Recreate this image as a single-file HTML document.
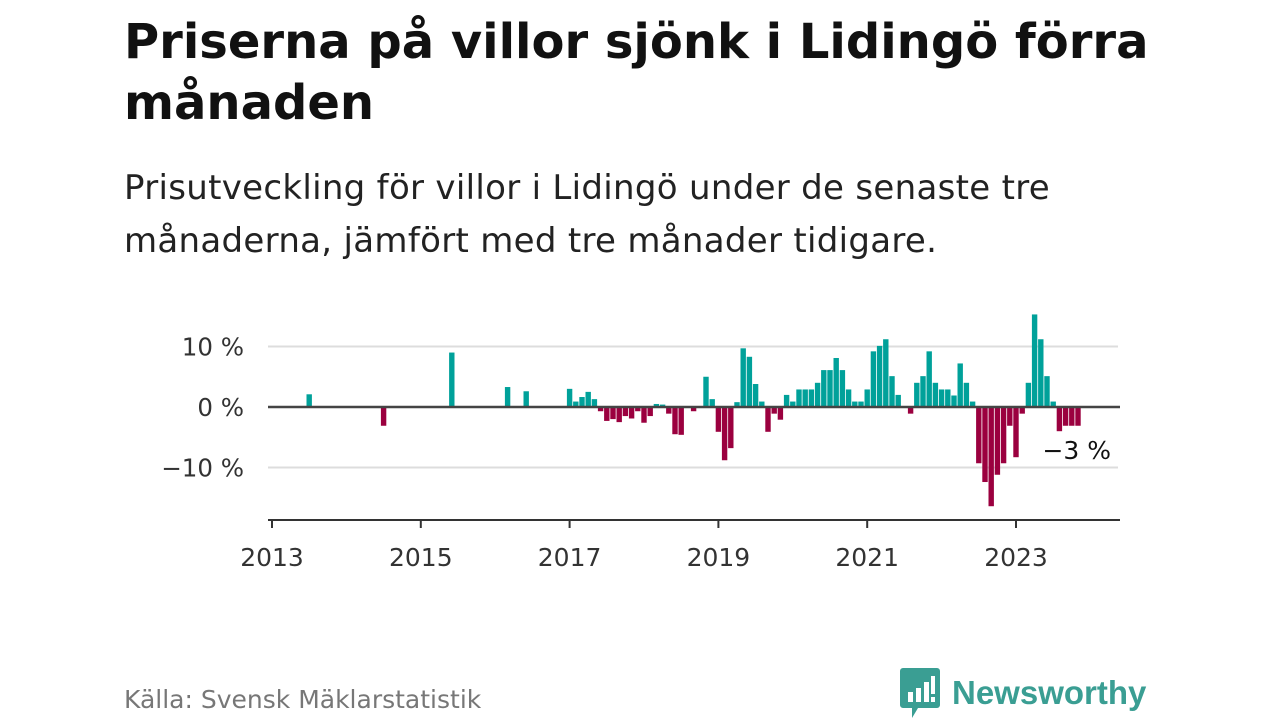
<!DOCTYPE html>
<html><head><meta charset="utf-8"><style>
body{margin:0;width:1280px;height:720px;background:#fff;font-family:"DejaVu Sans","Liberation Sans",sans-serif;overflow:hidden;position:relative}
h1{position:absolute;left:124px;top:12px;margin:0;font-size:48px;line-height:61px;font-weight:bold;color:#111;white-space:nowrap;letter-spacing:0px}
.sub{position:absolute;left:124px;top:162px;margin:0;font-size:34px;line-height:53px;color:#222;white-space:nowrap;letter-spacing:0.3px}
.src{position:absolute;left:124px;top:685px;font-size:25px;color:#777}
.logo{position:absolute;left:900px;top:668px;display:flex;align-items:center}
.logo span{font-size:33px;color:#3a9e93;font-weight:bold;margin-left:12px;font-family:"Liberation Sans",sans-serif}
</style></head><body>
<h1>Priserna på villor sjönk i Lidingö förra<br>månaden</h1>
<p class="sub">Prisutveckling för villor i Lidingö under de senaste tre<br>månaderna, jämfört med tre månader tidigare.</p>
<svg id="chart" width="1280" height="720" style="position:absolute;left:0;top:0"></svg>
<div class="src">Källa: Svensk Mäklarstatistik</div>
<div class="logo">
<svg width="40" height="50" viewBox="0 0 40 50"><path d="M3 0h34a3 3 0 0 1 3 3v34a3 3 0 0 1-3 3H18l-6 10v-10H3a3 3 0 0 1-3-3V3a3 3 0 0 1 3-3z" fill="#3a9e93"/><rect x="8" y="24" width="5" height="10" fill="#fff"/><rect x="16" y="20" width="5" height="14" fill="#fff"/><rect x="24" y="14" width="5" height="20" fill="#fff"/><rect x="31" y="8" width="4" height="18" fill="#fff"/><rect x="31" y="29" width="4" height="5" fill="#fff"/></svg>
<span>Newsworthy</span></div>
<script>
const sparseMonths=[6,18,29,38,41];
const sparseValues=[2.1,-3.1,9.0,3.3,2.6];
const startMonth=48; // Jan 2017
const values=[3.0,0.9,1.65,2.5,1.3,-0.7,-2.3,-2.0,-2.5,-1.5,-1.9,-0.7,
-2.6,-1.5,0.5,0.4,-1.1,-4.5,-4.6,0,-0.7,0,5.0,1.3,
-4.1,-8.8,-6.8,0.8,9.7,8.3,3.8,0.9,-4.1,-1.1,-2.1,2.0,
0.9,2.9,2.9,2.9,4.0,6.1,6.1,8.1,6.1,2.9,0.9,0.9,
2.9,9.2,10.1,11.2,5.1,2.0,0,-1.1,4.0,5.1,9.2,4.0,
2.9,2.9,1.9,7.2,4.0,0.9,-9.3,-12.4,-16.4,-11.2,-9.3,-3.1,
-8.3,-1.1,4.0,15.3,11.2,5.1,0.9,-4.0,-3.1,-3.1,-3.1];
const yTicks=[10,0,-10];
const yTickLabels=["10 %","0 %","\u221210 %"];
const xTickYears=[2013,2015,2017,2019,2021,2023];
const lastLabel="\u22123 %";
const ns="http://www.w3.org/2000/svg",svg=document.getElementById('chart');
const x=m=>272+m*6.2, y=v=>407-v*6.05;
function mk(t,a){const e=document.createElementNS(ns,t);for(const k in a)e.setAttribute(k,a[k]);svg.appendChild(e);return e;}
yTicks.forEach((t,i)=>{
 if(t!==0){const g=mk('line',{x1:268,x2:1118,y1:y(t),y2:y(t),stroke:'#ddd','stroke-width':2});
 
 }
 const l=mk('text',{x:244,y:y(t)+9,'text-anchor':'end','font-size':24.5,fill:'#333','font-family':'DejaVu Sans, sans-serif'});l.textContent=yTickLabels[i];
 
 
});
function bar(m,v){
 const r=mk('rect',{x:x(m)-2.7,width:5.4,y:Math.min(y(v),y(0)),height:Math.abs(y(v)-y(0)),fill:v>=0?'#00a19a':'#9b003f'});
 
 
}
sparseMonths.forEach((m,i)=>bar(m,sparseValues[i]));
values.forEach((v,i)=>{if(v!==0)bar(startMonth+i,v);});
const z=mk('line',{x1:268,x2:1120,y1:y(0),y2:y(0),stroke:'#444','stroke-width':2.5});


const ax=mk('line',{x1:268,x2:1120,y1:520,y2:520,stroke:'#333','stroke-width':2});


xTickYears.forEach(yr=>{const m=(yr-2013)*12;
 const t=mk('line',{x1:x(m),x2:x(m),y1:520,y2:528,stroke:'#333','stroke-width':2});
 
 
 const l=mk('text',{x:x(m),y:566,'text-anchor':'middle','font-size':25,fill:'#333','font-family':'DejaVu Sans, sans-serif'});l.textContent=yr;
 
 
});
const lm=startMonth+values.length-1;
const ll=mk('text',{x:1111,y:459,'text-anchor':'end','font-size':25,fill:'#111','font-family':'DejaVu Sans, sans-serif'});ll.textContent=lastLabel;


</script>
</body></html>
